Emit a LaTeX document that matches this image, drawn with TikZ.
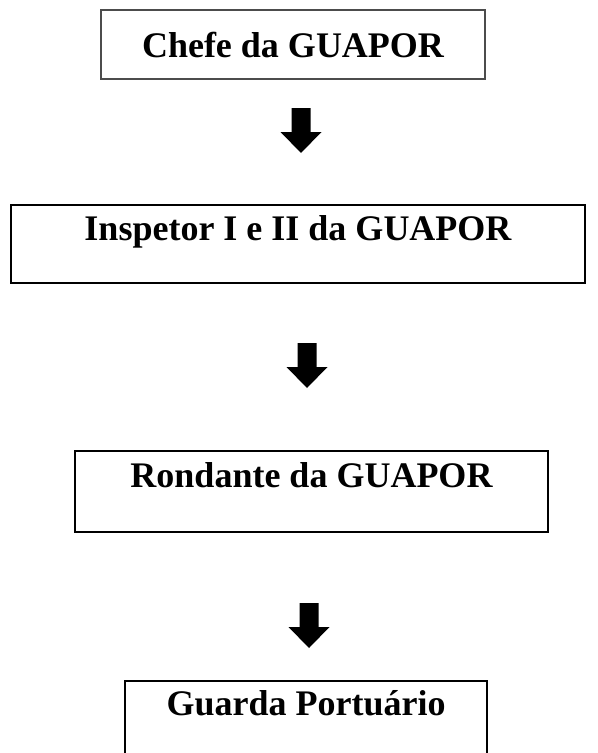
\documentclass[tikz,border=0pt]{standalone}
\usepackage{fontspec}
\setmainfont{Liberation Serif}
\usepackage{tikz}
\tikzstyle{cargo}=[rectangle, draw=black, line width=1.5pt, inner sep=0pt,
  font=\fontsize{27}{31}\selectfont\bfseries]
\tikzstyle{seta}=[fill=black]

\begin{document}
\begin{tikzpicture}[x=0.75pt,y=-0.75pt]
     \useasboundingbox (0,0) rectangle (597,753);
     \clip (0,0) rectangle (597,753);
     \node (chefe) [cargo, draw=black!70, minimum width=288pt, minimum height=51.75pt,
       text height=35.25pt, text depth=16.5pt] at (293,44.5) {Chefe da GUAPOR};
     \node (inspetor) [cargo, minimum width=430.5pt, minimum height=58.5pt,
       text height=26.25pt, text depth=32.25pt] at (298,244) {Inspetor I e II da GUAPOR};
     \node (rondante) [cargo, minimum width=354.75pt, minimum height=60.75pt,
       text height=27pt, text depth=33.75pt] at (311.5,491.5) {Rondante da GUAPOR};
     \node (guarda) [cargo, minimum width=271.5pt, minimum height=67.5pt,
       text height=25.5pt, text depth=42pt] at (306,726) {Guarda Portuário};
     % setas entre os cargos
     \foreach \x/\y in {301/108, 307/343, 309/603}
       \fill[seta] (\x-9.5,\y) -- (\x+9.5,\y) -- (\x+9.5,\y+24) -- (\x+20.5,\y+24)
         -- (\x,\y+45) -- (\x-20.5,\y+24) -- (\x-9.5,\y+24) -- cycle;
\end{tikzpicture}
\end{document}
